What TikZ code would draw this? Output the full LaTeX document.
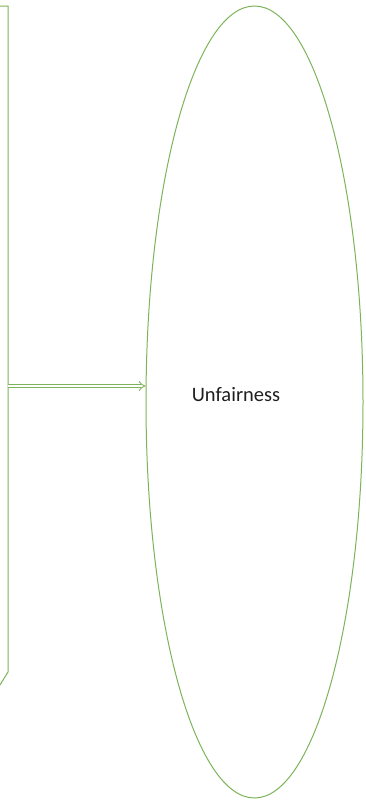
\documentclass[tikz,border=0pt]{standalone}
\usepackage{fontspec}
\setmainfont{Carlito}
\usetikzlibrary{shapes.geometric,arrows.meta}
\definecolor{offgreen}{RGB}{125,180,90}
\tikzset{
  outline/.style={draw=offgreen, line width=1pt},
  implarrow/.style={draw=offgreen, line width=0.9pt, double=white, double distance=2.6pt, -{Implies}},
  lbl/.style={inner sep=0pt, font=\fontsize{20.5}{24}\selectfont, text=black!88}
}
\begin{document}
\begin{tikzpicture}[x=1pt,y=-1pt]
\useasboundingbox (0,0) rectangle (366,803);
\fill[white] (0,0) rectangle (366,803);
% left box (partially visible)
\coordinate (tl) at (0,6);
\coordinate (tr) at (8,6);
\coordinate (br) at (8,672);
\coordinate (bl) at (0,685);
\draw[outline] (tl) -- (tr) -- (br) -- (bl);
% ellipse
\node[ellipse, outline, minimum width=217pt, minimum height=792pt, inner sep=0pt] (ell) at (254.5,402) {};
\node[lbl] (txt) at (236,395) {Unfairness};
% arrow
\coordinate (start) at (8,386);
\draw[implarrow] (start) -- (start -| ell.west);
\end{tikzpicture}
\end{document}
